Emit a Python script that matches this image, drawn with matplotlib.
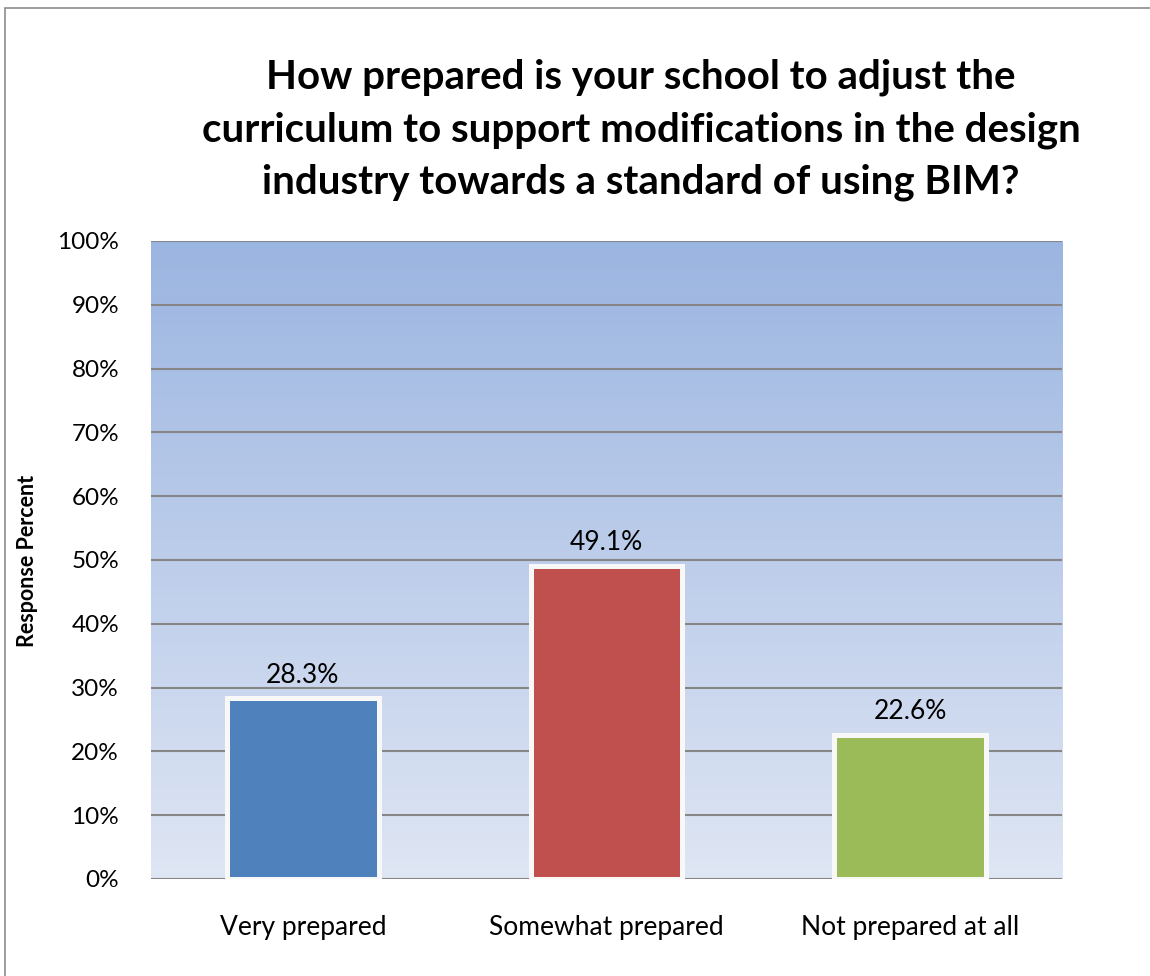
import numpy as np
import matplotlib
matplotlib.use("Agg")
import matplotlib.pyplot as plt
from matplotlib.colors import LinearSegmentedColormap
from matplotlib.patches import Rectangle

plt.rcParams["font.family"] = ["Lato", "DejaVu Sans"]

categories = ["Very prepared", "Somewhat prepared", "Not prepared at all"]
values = [28.3, 49.1, 22.6]
bar_colors = ["#4f81bd", "#c0504d", "#9bbb59"]
yticks = [0, 10, 20, 30, 40, 50, 60, 70, 80, 90, 100]
title = ("How prepared is your school to adjust the\n"
         "curriculum to support modifications in the design\n"
         "industry towards a standard of using BIM?")

fig = plt.figure(figsize=(11.5, 9.76), dpi=100)
ax = fig.add_axes([0.1313, 0.0994, 0.7922, 0.6537])

# chart border (left/top only visible in the crop)
fig.patches.append(Rectangle((5 / 1150, -0.1), 1.2, 1 - 8 / 976 + 0.1,
                             transform=fig.transFigure, fill=False,
                             edgecolor="#8c8c8c", linewidth=1.2))

# gradient plot background
grad = LinearSegmentedColormap.from_list("bg", ["#dfe6f4", "#9bb5e1"])
ax.imshow(np.linspace(0, 1, 256).reshape(-1, 1), cmap=grad, origin="lower",
          extent=(-0.5, 2.5, 0, 100), aspect="auto", zorder=0)

x = np.arange(len(categories))
ax.bar(x, values, width=0.5, color=bar_colors, edgecolor="#f8f8f8",
       linewidth=3.6, zorder=3)
for xi, v in zip(x, values):
    ax.text(xi, v + 3.6, f"{v:.1f}%", ha="center", va="center",
            fontsize=19, zorder=4)

ax.set_xlim(-0.5, 2.5)
ax.set_ylim(0, 100)
ax.set_yticks(yticks)
ax.set_yticklabels([f"{t}%" for t in yticks], fontsize=17.5)
ax.set_xticks(x)
ax.set_xticklabels(categories, fontsize=19)
ax.tick_params(axis="y", length=0, pad=23)
ax.tick_params(axis="x", length=0, pad=26)
ax.yaxis.grid(True, color="#868686", linewidth=1.5, zorder=1)
ax.set_axisbelow(True)
for s in ax.spines.values():
    s.set_visible(False)

fig.text(28 / 1150, 1 - 561 / 976, "Response Percent", rotation=90,
         ha="center", va="center", fontsize=15.5, fontweight="bold")
fig.text(641 / 1150, 1 - 130 / 976, title, ha="center", va="center",
         fontsize=29, fontweight="bold", linespacing=1.5)

fig.savefig("out.png", dpi=100)
